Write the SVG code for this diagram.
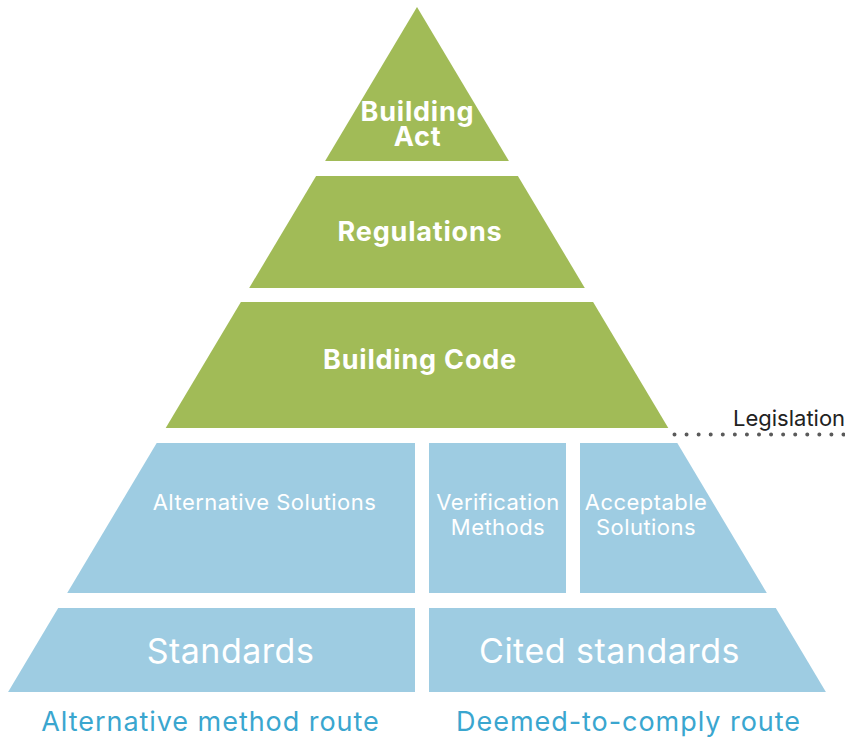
<svg xmlns="http://www.w3.org/2000/svg" width="845" height="739" viewBox="0 0 845 739">
  <style>
    .green { fill: #a1bb57; }
    .blue { fill: #9ecce2; }
    .t { font-family: Inter, "Open Sans", "Liberation Sans", sans-serif; fill: #ffffff; text-anchor: middle; }
    .tb { font-weight: 700; font-size: 27px; letter-spacing: 0.8px; }
    .tm { font-size: 22px; letter-spacing: 0.45px; }
    .tl { font-size: 34px; letter-spacing: 0.5px; }
    .route { font-family: Inter, "Open Sans", "Liberation Sans", sans-serif; fill: #3aa6cf; font-size: 27px; letter-spacing: 0.95px; text-anchor: middle; }
    .note { font-family: Inter, "Open Sans", "Liberation Sans", sans-serif; fill: #222222; font-size: 22px; }
  </style>

  <!-- legislation tiers -->
  <g id="building-act">
    <polygon class="green" points="417,7 508.9,161 325.1,161"/>
    <text class="t tb" x="417.5" y="121">Building</text>
    <text class="t tb" x="417.5" y="146">Act</text>
  </g>
  <g id="regulations">
    <polygon class="green" points="316.1,176 517.9,176 584.8,288 249.2,288"/>
    <text class="t tb" x="420" y="241">Regulations</text>
  </g>
  <g id="building-code">
    <polygon class="green" points="240.9,302 593.1,302 668.3,428 165.7,428"/>
    <text class="t tb" x="420" y="369">Building Code</text>
  </g>

  <!-- compliance tier -->
  <g id="alternative-solutions">
    <polygon class="blue" points="156.7,443 415,443 415,593 67.2,593"/>
    <text class="t tm" x="264.5" y="510">Alternative Solutions</text>
  </g>
  <g id="verification-methods">
    <rect class="blue" x="429" y="443" width="137" height="150"/>
    <text class="t tm" x="498" y="510">Verification</text>
    <text class="t tm" x="498" y="535">Methods</text>
  </g>
  <g id="acceptable-solutions">
    <polygon class="blue" points="580,443 677.3,443 766.8,593 580,593"/>
    <text class="t tm" x="646" y="510">Acceptable</text>
    <text class="t tm" x="646" y="535">Solutions</text>
  </g>

  <!-- standards tier -->
  <g id="standards">
    <polygon class="blue" points="58.2,608 415,608 415,692 8.1,692"/>
    <text class="t tl" x="230.5" y="663">Standards</text>
  </g>
  <g id="cited-standards">
    <polygon class="blue" points="429,608 775.8,608 825.9,692 429,692"/>
    <text class="t tl" x="609.5" y="663">Cited standards</text>
  </g>

  <!-- legislation boundary -->
  <g id="connectors">
    <line x1="674.5" y1="434.5" x2="845" y2="434.5" stroke="#5a5a5a" stroke-width="4" stroke-linecap="round" stroke-dasharray="0 12.07"/>
  </g>
  <g id="legislation-label">
    <text class="note" x="733" y="426">Legislation</text>
  </g>

  <!-- route labels -->
  <g id="route-labels">
    <text class="route" x="210.5" y="731">Alternative method route</text>
    <text class="route" x="628.5" y="731">Deemed-to-comply route</text>
  </g>
</svg>
